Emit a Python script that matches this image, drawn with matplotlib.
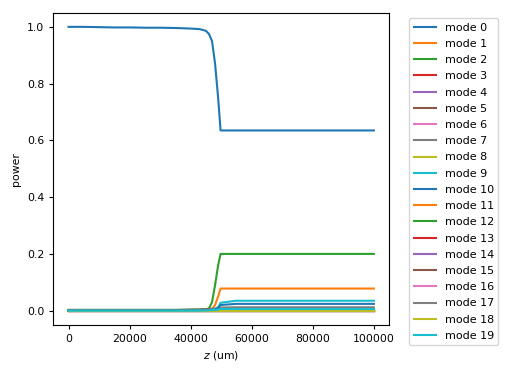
import matplotlib
matplotlib.use("Agg")
import matplotlib.pyplot as plt

# propagation distance samples (um)
z = [0, 5000, 10000, 15000, 20000, 25000, 30000, 35000, 40000, 43000, 45000,
     46000, 47000, 48000, 49000, 49800, 55000, 70000, 85000, 100000]

# power in each mode
mode0 = [1.0, 1.0, 0.999, 0.998, 0.998, 0.997, 0.997, 0.996, 0.994, 0.992, 0.986,
         0.975, 0.95, 0.87, 0.75, 0.635, 0.635, 0.635, 0.635, 0.635]
mode1 = [0.0, 0.0, 0.0, 0.0, 0.0, 0.0, 0.0, 0.0, 0.001, 0.001, 0.002,
         0.003, 0.006, 0.02, 0.05, 0.078, 0.078, 0.078, 0.078, 0.078]
mode2 = [0.003, 0.003, 0.003, 0.003, 0.003, 0.003, 0.003, 0.003, 0.004, 0.004, 0.005,
         0.008, 0.03, 0.09, 0.16, 0.2, 0.2, 0.2, 0.2, 0.2]
mode9 = [0.0, 0.0, 0.0, 0.0, 0.0, 0.0, 0.0, 0.0, 0.0, 0.001, 0.001,
         0.002, 0.003, 0.006, 0.012, 0.028, 0.035, 0.035, 0.035, 0.035]
mode10 = [0.0, 0.0, 0.0, 0.0, 0.0, 0.0, 0.0, 0.0, 0.0, 0.0, 0.001,
          0.001, 0.002, 0.005, 0.01, 0.02, 0.024, 0.024, 0.024, 0.024]
mode7 = [0.001, 0.001, 0.001, 0.001, 0.001, 0.001, 0.001, 0.001, 0.002, 0.002, 0.003,
         0.004, 0.005, 0.007, 0.009, 0.011, 0.012, 0.012, 0.012, 0.012]
mode5 = [0.002, 0.002, 0.002, 0.002, 0.002, 0.002, 0.002, 0.002, 0.003, 0.004, 0.005,
         0.006, 0.007, 0.006, 0.004, 0.002, 0.002, 0.002, 0.002, 0.002]
mode19 = [0.0, 0.0, 0.0, 0.0, 0.0, 0.0, 0.0, 0.0, 0.0, 0.0, 0.001,
          0.001, 0.002, 0.003, 0.004, 0.006, 0.006, 0.006, 0.006, 0.006]
flat = [0.0] * len(z)

modes = {
    0: mode0, 1: mode1, 2: mode2, 5: mode5, 7: mode7,
    9: mode9, 10: mode10, 19: mode19,
}

fig, ax = plt.subplots(figsize=(5.12, 3.84), dpi=100)
for m in range(20):
    ax.plot(z, modes.get(m, flat), label=f"mode {m}")

ax.set_xlabel("$z$ (um)", fontsize=7.8)
ax.set_ylabel("power", fontsize=7.8)
ax.tick_params(labelsize=7.8, length=3)
ax.legend(loc="upper left", bbox_to_anchor=(1.043, 1.0), fontsize=8,
          labelspacing=0.56)
fig.subplots_adjust(left=0.104, right=0.760, bottom=0.154, top=0.967)
fig.savefig("out.png")
